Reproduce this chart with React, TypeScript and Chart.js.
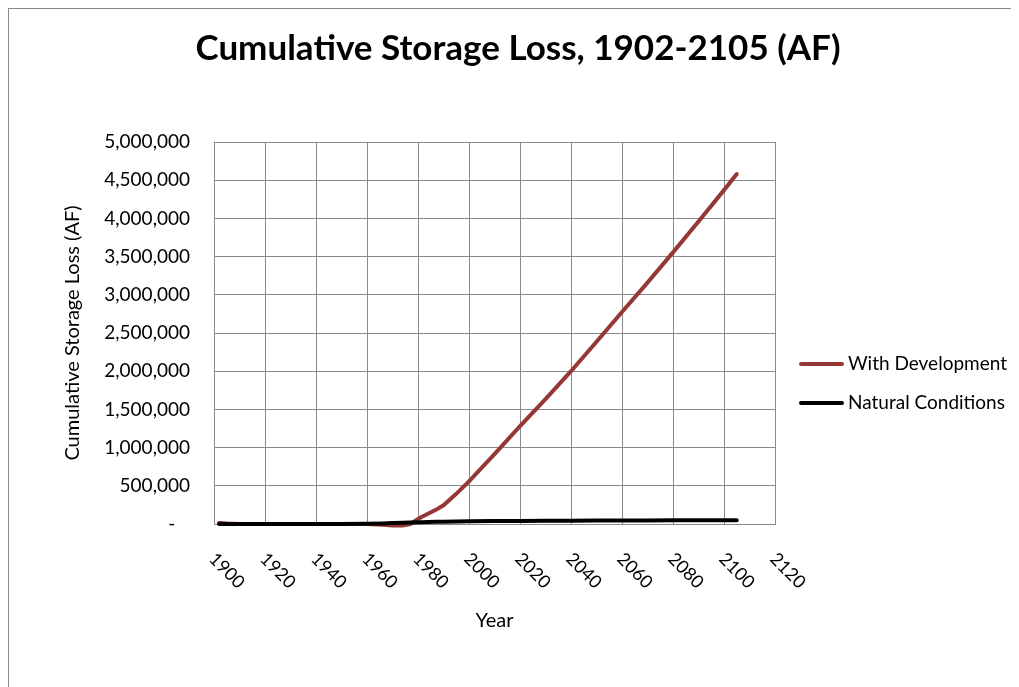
import React, { useEffect, useRef } from "react";
import { Chart, registerables } from "chart.js";

Chart.register(...registerables);

const years = [1902, 1905, 1910, 1920, 1930, 1940, 1950, 1960, 1966, 1970, 1974, 1977, 1981, 1987, 1990, 1995, 2000, 2010, 2020, 2030, 2040, 2050, 2060, 2070, 2080, 2090, 2100, 2105];
const withDevelopment = [14000, 6000, 0, 0, 0, 0, 0, 0, -10000, -18000, -18000, 0, 85000, 185000, 245000, 395000, 557000, 915000, 1280000, 1635000, 2000000, 2385000, 2775000, 3160000, 3555000, 3960000, 4370000, 4580000];
const naturalConditions = [0, 0, 0, 0, 0, 500, 1500, 4000, 8000, 12000, 16000, 19000, 23000, 28000, 30000, 33000, 35000, 38000, 40000, 42000, 43500, 45000, 46000, 47000, 48000, 49000, 50000, 50000];
const seriesLabels = ["With Development", "Natural Conditions"];
const seriesColors = ["#953735", "#000000"];
const titleText = "Cumulative Storage Loss, 1902-2105 (AF)";
const xTitle = "Year";
const yTitle = "Cumulative Storage Loss (AF)";

const FONT = "Lato";
const W = 1010;
const H = 678;

const titlePlugin = {
  id: "customTitle",
  afterDraw(chart: any) {
    const ctx = chart.ctx;
    ctx.save();
    ctx.font = `bold 35px ${FONT}`;
    ctx.fillStyle = "#000";
    ctx.textAlign = "center";
    ctx.textBaseline = "middle";
    ctx.fillText(titleText, 509, 40);
    ctx.restore();
  },
};

const xLabelPlugin = {
  id: "xLabels",
  afterDraw(chart: any) {
    const ctx = chart.ctx;
    const xs = chart.scales.x;
    const base = chart.chartArea.bottom;
    ctx.save();
    ctx.font = `18px ${FONT}`;
    ctx.fillStyle = "#000";
    ctx.textAlign = "left";
    ctx.textBaseline = "middle";
    xs.ticks.forEach((t: any) => {
      const px = xs.getPixelForValue(t.value);
      ctx.save();
      ctx.translate(px - 2, base + 32);
      ctx.rotate(Math.PI / 4);
      ctx.fillText(String(t.value), 0, 0);
      ctx.restore();
    });
    ctx.restore();
  },
};

const legendPlugin = {
  id: "customLegend",
  afterDraw(chart: any) {
    const ctx = chart.ctx;
    ctx.save();
    ctx.font = `19px ${FONT}`;
    ctx.textAlign = "left";
    ctx.textBaseline = "middle";
    chart.data.datasets.forEach((ds: any, i: number) => {
      const y = 355 + i * 39;
      ctx.strokeStyle = ds.borderColor;
      ctx.lineWidth = 4;
      ctx.lineCap = "round";
      ctx.beginPath();
      ctx.moveTo(792, y);
      ctx.lineTo(833, y);
      ctx.stroke();
      ctx.fillStyle = "#000";
      ctx.fillText(ds.label, 839, y);
    });
    ctx.restore();
  },
};

export default function App() {
  const ref = useRef<HTMLCanvasElement>(null);
  useEffect(() => {
    if (!ref.current) return;
    const chart = new Chart(ref.current, {
      type: "line",
      data: {
        labels: years,
        datasets: [
          {
            label: seriesLabels[0],
            data: years.map((y, i) => ({ x: y, y: withDevelopment[i] })),
            borderColor: seriesColors[0],
            backgroundColor: seriesColors[0],
            borderWidth: 4,
            pointRadius: 0,
            tension: 0,
            clip: 8,
            order: 1,
          },
          {
            label: seriesLabels[1],
            data: years.map((y, i) => ({ x: y, y: naturalConditions[i] })),
            borderColor: seriesColors[1],
            backgroundColor: seriesColors[1],
            borderWidth: 4,
            pointRadius: 0,
            tension: 0,
            clip: 8,
            order: 0,
          },
        ],
      },
      options: {
        responsive: false,
        animation: false,
        borderCapStyle: "round",
        layout: { padding: { left: 0, right: 244, top: 133, bottom: 0 } },
        plugins: {
          legend: { display: false },
          tooltip: { enabled: false },
          title: { display: false },
        },
        scales: {
          x: {
            type: "linear",
            min: 1900,
            max: 2120,
            afterFit(scale: any) {
              scale.height = H - 515;
            },
            ticks: { display: false, stepSize: 20 },
            grid: { color: "#8a8a8a", lineWidth: 1, drawTicks: false },
            border: { color: "#8a8a8a", width: 1 },
            title: {
              display: true,
              text: xTitle,
              color: "#000",
              font: { family: FONT, size: 20 },
              padding: { top: 0, bottom: 54 },
            },
          },
          y: {
            type: "linear",
            min: 0,
            max: 5000000,
            afterFit(scale: any) {
              scale.width = 205;
            },
            ticks: {
              stepSize: 500000,
              padding: 24,
              color: "#000",
              font: { family: FONT, size: 19 },
              callback: (v: any) => (Number(v) === 0 ? "-   " : Number(v).toLocaleString("en-US")),
            },
            grid: { color: "#8a8a8a", lineWidth: 1, drawTicks: false },
            border: { color: "#8a8a8a", width: 1 },
            title: {
              display: true,
              text: yTitle,
              color: "#000",
              font: { family: FONT, size: 20 },
              padding: { top: 52, bottom: 0 },
            },
          },
        },
      } as any,
      plugins: [titlePlugin, xLabelPlugin, legendPlugin],
    });
    return () => chart.destroy();
  }, []);
  return (
    <div style={{ width: W, height: H, borderLeft: "1px solid #8a8a8a", borderTop: "1px solid #8a8a8a", background: "#fff" }}>
      <canvas ref={ref} width={W} height={H} style={{ display: "block" }} />
    </div>
  );
}
